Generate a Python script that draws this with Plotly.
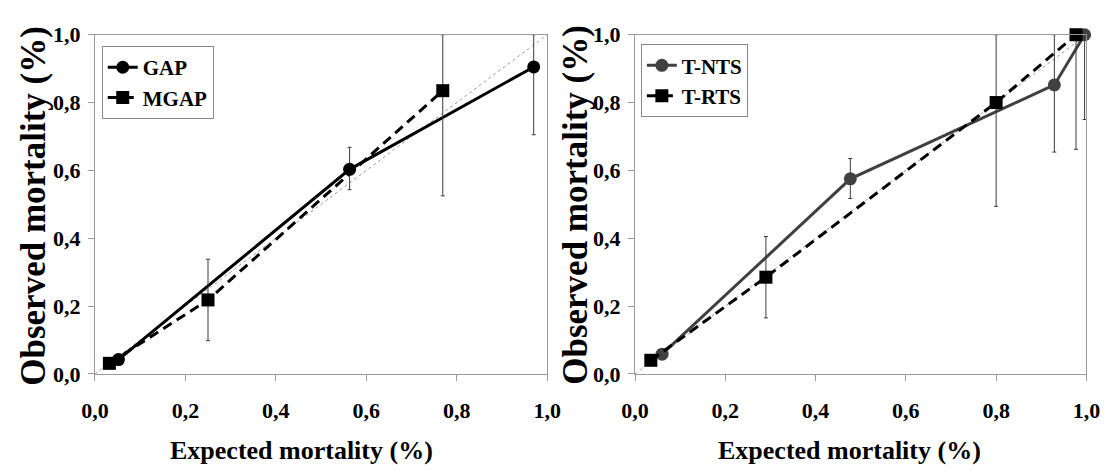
import plotly.graph_objects as go

# ---- data ----
gap_x = [0.052, 0.563, 0.970]
gap_y = [0.042, 0.603, 0.905]
gap_up = [0.0, 0.065, 0.095]
gap_dn = [0.0, 0.060, 0.200]

mgap_x = [0.032, 0.250, 0.769]
mgap_y = [0.031, 0.218, 0.835]
mgap_up = [0.0, 0.120, 0.165]
mgap_dn = [0.0, 0.120, 0.310]

tnts_x = [0.060, 0.477, 0.929, 0.996]
tnts_y = [0.058, 0.575, 0.852, 1.000]
tnts_up = [0.0, 0.060, 0.148, 0.0]
tnts_dn = [0.0, 0.058, 0.198, 0.250]

trts_x = [0.035, 0.290, 0.800, 0.977]
trts_y = [0.040, 0.285, 0.800, 1.000]
trts_up = [0.0, 0.120, 0.200, 0.0]
trts_dn = [0.0, 0.120, 0.306, 0.338]

diag = [0.0, 1.0]
tick_vals = [0.0, 0.2, 0.4, 0.6, 0.8, 1.0]
tick_text = ["0,0", "0,2", "0,4", "0,6", "0,8", "1,0"]
x_title = "Expected mortality (%)"
y_title = "Observed mortality (%)"

FONT = "Liberation Serif, Times New Roman, Times, serif"
DASH = "10px,6px"

def err(up, dn):
    return dict(type="data", array=up, arrayminus=dn, symmetric=False,
                color="#3a3a3a", thickness=1, width=2)

fig = go.Figure()

# diagonals
for xa, ya in (("x", "y"), ("x2", "y2")):
    fig.add_trace(go.Scatter(x=diag, y=diag, mode="lines", xaxis=xa, yaxis=ya,
                             line=dict(color="#9a9a9a", width=1, dash="dot"),
                             showlegend=False, hoverinfo="skip"))

fig.add_trace(go.Scatter(x=gap_x, y=gap_y, name="GAP", mode="lines+markers",
                         xaxis="x", yaxis="y", legend="legend",
                         line=dict(color="black", width=3),
                         marker=dict(symbol="circle", size=13, color="black"),
                         error_y=err(gap_up, gap_dn), cliponaxis=False))
fig.add_trace(go.Scatter(x=mgap_x, y=mgap_y, name="MGAP", mode="lines+markers",
                         xaxis="x", yaxis="y", legend="legend",
                         line=dict(color="black", width=3, dash=DASH),
                         marker=dict(symbol="square", size=13, color="black"),
                         error_y=err(mgap_up, mgap_dn), cliponaxis=False))
fig.add_trace(go.Scatter(x=tnts_x, y=tnts_y, name="T-NTS", mode="lines+markers",
                         xaxis="x2", yaxis="y2", legend="legend2",
                         line=dict(color="#404040", width=3),
                         marker=dict(symbol="circle", size=13, color="#404040"),
                         error_y=err(tnts_up, tnts_dn), cliponaxis=False))
fig.add_trace(go.Scatter(x=trts_x, y=trts_y, name="T-RTS", mode="lines+markers",
                         xaxis="x2", yaxis="y2", legend="legend2",
                         line=dict(color="black", width=3, dash=DASH),
                         marker=dict(symbol="square", size=13, color="black"),
                         error_y=err(trts_up, trts_dn), cliponaxis=False))

W, H = 1116, 474
ax_common = dict(range=[0, 1], tickvals=tick_vals, ticktext=tick_text,
                 showgrid=False, zeroline=False, showline=True, linecolor="#999999",
                 linewidth=1, mirror=True, ticks="outside", ticklen=6,
                 tickcolor="#999999",
                 tickfont=dict(family=FONT, size=22, color="black", weight="bold"))

y_dom = [(H - 382) / H, (H - 24) / H]
leg_font = dict(family=FONT, size=21, color="black", weight="bold")
fig.update_layout(
    width=W, height=H,
    margin=dict(l=0, r=0, t=0, b=0),
    paper_bgcolor="white", plot_bgcolor="white",
    font=dict(family=FONT),
    xaxis=dict(domain=[83 / W, 547 / W], anchor="y", ticklabelstandoff=11, **ax_common),
    yaxis=dict(domain=y_dom, anchor="x", ticklabelstandoff=3, **ax_common),
    xaxis2=dict(domain=[637 / W, 1100 / W], anchor="y2", ticklabelstandoff=11, **ax_common),
    yaxis2=dict(domain=y_dom, anchor="x2", ticklabelstandoff=3, **ax_common),
    legend=dict(x=90 / W, y=1 - 36 / H, xanchor="left", yanchor="top",
                bgcolor="white", bordercolor="#888888", borderwidth=1,
                font=leg_font, itemwidth=30, tracegroupgap=0),
    legend2=dict(x=643 / W, y=1 - 34 / H, xanchor="left", yanchor="top",
                 bgcolor="white", bordercolor="#888888", borderwidth=1,
                 font=leg_font, itemwidth=30, tracegroupgap=0),
    showlegend=True,
)

annots = [
    dict(x=295 / W, y=1 - 463 / H, text=x_title, font_size=26),
    dict(x=857 / W, y=1 - 463 / H, text=x_title, font_size=26),
    dict(x=20 / W, y=1 - 204 / H, text=y_title, font_size=35, textangle=-90),
    dict(x=576 / W, y=1 - 204 / H, text=y_title, font_size=35, textangle=-90),
]
for a in annots:
    fig.add_annotation(xref="paper", yref="paper", showarrow=False,
                       xanchor="center", yanchor="middle",
                       font=dict(family=FONT, size=a.pop("font_size"),
                                 color="black", weight="bold"), **a)

fig.write_html("out.html")
